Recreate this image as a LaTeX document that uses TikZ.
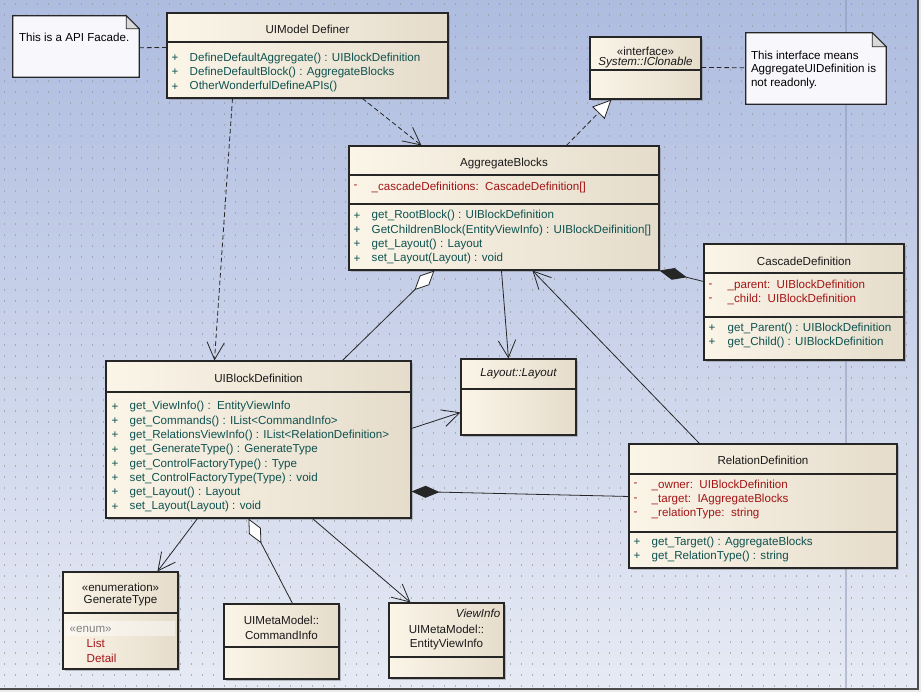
\documentclass[tikz,border=0pt]{standalone}
\usepackage{fontspec}
\setmainfont{Liberation Sans}
\usetikzlibrary{calc,fit,shadows,arrows.meta}
\definecolor{fond_haut}{HTML}{AEBCE0}
\definecolor{fond_bas}{HTML}{E6EAF4}
\definecolor{creme_g}{HTML}{FBF5E8}
\definecolor{creme_d}{HTML}{E5DCCB}
\definecolor{rouge_attr}{HTML}{A31414}
\definecolor{vert_meth}{HTML}{0E5250}
\definecolor{note_fond}{HTML}{F8F7FC}

\begin{document}
\begin{tikzpicture}[x=0.75pt,y=-0.75pt,
    font=\fontsize{8.7}{10}\selectfont,
    classe/.style={draw=black!85, line width=0.8pt, left color=creme_g, right color=creme_d,
      inner sep=0pt, drop shadow={shadow xshift=1.8pt, shadow yshift=-1.8pt, fill=black!50, opacity=0.45}},
    sep/.style={draw=black!85, line width=0.8pt},
    titre/.style={inner sep=0pt, text=black!90},
    attr/.style={anchor=west, inner sep=0pt, text=rouge_attr},
    meth/.style={anchor=west, inner sep=0pt, text=vert_meth},
    notebox/.style={inner sep=0pt},
    lien/.style={black!85, line width=0.6pt},
    pointille/.style={lien, dash pattern=on 3.5pt off 2.2pt},
    fleche/.style={-{Straight Barb[length=13pt,width=13pt]}},
    triangle/.style={-{Triangle[length=14pt,width=13pt,fill=white]}},
    losange_vide/.style={-{Diamond[length=21pt,width=10pt,fill=white]}},
    losange_plein/.style={-{Diamond[length=21pt,width=9pt]}}]

    % Fond bleu dégradé et cadre
    \useasboundingbox (0,0) rectangle (921,692);
    \fill[white!92!black] (0,0) rectangle (921,692);
    \shade[top color=fond_haut, bottom color=fond_bas] (0,0) rectangle (918,689);

    % Grille de points
    \foreach \yy in {4,15,...,688}
      \draw[black!40, opacity=0.7, line width=1.2pt, dash pattern=on 0.9pt off 7.35pt] (4,\yy) -- (916,\yy);

    % Ligne de page verticale et bords
    \draw[fond_haut!80!black, opacity=0.5, line width=1pt] (846,0) -- (846,689);
    \draw[black!70, line width=2pt] (918,0) -- (918,689) -- (0,689);

    % Notes
    \node[notebox, fit={(13,16) (139,77)}] (note1) {};
    \draw[black!85, line width=0.8pt, fill=note_fond] (note1.north west) -- ($(note1.north east)+(-13,0)$)
      -- ($(note1.north east)+(0,13)$) -- (note1.south east) -- (note1.south west) -- cycle;
    \draw[black!85, line width=0.6pt, fill=black!15] ($(note1.north east)+(-13,0)$) -- ($(note1.north east)+(-13,13)$) -- ($(note1.north east)+(0,13)$) -- cycle;
    \node[anchor=west, inner sep=0pt] (note1_t) at ($(note1.north west)+(6,22)$) {This is a API Facade.};

    \node[notebox, fit={(746,33) (886,104)}] (note2) {};
    \draw[black!85, line width=0.8pt, fill=note_fond] (note2.north west) -- ($(note2.north east)+(-14,0)$)
      -- ($(note2.north east)+(0,14)$) -- (note2.south east) -- (note2.south west) -- cycle;
    \draw[black!85, line width=0.6pt, fill=black!15] ($(note2.north east)+(-14,0)$) -- ($(note2.north east)+(-14,14)$) -- ($(note2.north east)+(0,14)$) -- cycle;
    \foreach \txt [count=\i] in {This interface means, AggregateUIDefinition is, not readonly.}
      \node[anchor=west, inner sep=0pt] (note2_t\i) at ($(note2.north west)+(5,9+14*\i)$) {\txt};

    % Classe UIModel Definer
    \node[classe, fit={(167,13) (448,98)}] (udef) {};
    \draw[sep] (udef.west |- 0,42) -- (udef.east |- 0,42);
    \node[titre] (udef_t) at (udef.north |- 0,29) {UIModel Definer};
    \foreach \txt [count=\i] in {{DefineDefaultAggregate() : UIBlockDefinition},
        {DefineDefaultBlock() : AggregateBlocks}, {OtherWonderfulDefineAPIs()}} {
      \node[meth] (udef_p\i) at ($(udef.west |- 0,44)+(5,14.3*\i)$) {+};
      \node[meth] (udef_m\i) at ($(udef.west |- 0,44)+(23,14.3*\i)$) {\txt};
    }

    % Interface IClonable
    \node[classe, fit={(590,37) (701,99)}] (iclone) {};
    \draw[sep] (iclone.west |- 0,70) -- (iclone.east |- 0,70);
    \node[titre] (iclone_s) at (iclone.north |- 0,51) {«interface»};
    \node[titre] (iclone_t) at (iclone.north |- 0,63) {\itshape System::IClonable};

    % Classe AggregateBlocks
    \node[classe, fit={(349,146) (659,270)}] (agg) {};
    \draw[sep] (agg.west |- 0,175) -- (agg.east |- 0,175);
    \draw[sep] (agg.west |- 0,204) -- (agg.east |- 0,204);
    \node[titre] (agg_t) at (agg.north |- 0,163) {AggregateBlocks};
    \node[attr] (agg_d1) at ($(agg.west |- 0,187)+(5,0)$) {-};
    \node[attr] (agg_a1) at ($(agg.west |- 0,187)+(23,0)$) {\_cascadeDefinitions:\ \ CascadeDefinition[]};
    \foreach \txt [count=\i] in {{get\_RootBlock() : UIBlockDefinition},
        {GetChildrenBlock(EntityViewInfo) : UIBlockDeifinition[]},
        {get\_Layout() : Layout}, {set\_Layout(Layout) : void}} {
      \node[meth] (agg_p\i) at ($(agg.west |- 0,201.5)+(5,14.3*\i)$) {+};
      \node[meth] (agg_m\i) at ($(agg.west |- 0,201.5)+(23,14.3*\i)$) {\txt};
    }

    % Classe CascadeDefinition
    \node[classe, fit={(704,244) (904,360)}] (casc) {};
    \draw[sep] (casc.west |- 0,273) -- (casc.east |- 0,273);
    \draw[sep] (casc.west |- 0,317) -- (casc.east |- 0,317);
    \node[titre] (casc_t) at (casc.north |- 0,261) {CascadeDefinition};
    \foreach \txt [count=\i] in {{\_parent:\ \ UIBlockDefinition}, {\_child:\ \ UIBlockDefinition}} {
      \node[attr] (casc_d\i) at ($(casc.west |- 0,271)+(5,14.3*\i)$) {-};
      \node[attr] (casc_a\i) at ($(casc.west |- 0,271)+(24,14.3*\i)$) {\txt};
    }
    \foreach \txt [count=\i] in {{get\_Parent() : UIBlockDefinition}, {get\_Child() : UIBlockDefinition}} {
      \node[meth] (casc_p\i) at ($(casc.west |- 0,314)+(5,14.3*\i)$) {+};
      \node[meth] (casc_m\i) at ($(casc.west |- 0,314)+(24,14.3*\i)$) {\txt};
    }

    % Classe UIBlockDefinition
    \node[classe, fit={(106,361) (411,518)}] (ubd) {};
    \draw[sep] (ubd.west |- 0,392) -- (ubd.east |- 0,392);
    \node[titre] (ubd_t) at (ubd.north |- 0,378) {UIBlockDefinition};
    \foreach \txt [count=\i] in {{get\_ViewInfo() :\ \ EntityViewInfo},
        {get\_Commands() : IList<CommandInfo>},
        {get\_RelationsViewInfo() : IList<RelationDefinition>},
        {get\_GenerateType() : GenerateType},
        {get\_ControlFactoryType() : Type},
        {set\_ControlFactoryType(Type) : void},
        {get\_Layout() : Layout}, {set\_Layout(Layout) : void}} {
      \node[meth] (ubd_p\i) at ($(ubd.west |- 0,392.5)+(6,14.3*\i)$) {+};
      \node[meth] (ubd_m\i) at ($(ubd.west |- 0,392.5)+(24,14.3*\i)$) {\txt};
    }

    % Classe Layout::Layout
    \node[classe, fit={(461,359) (576,435)}] (lay) {};
    \draw[sep] (lay.west |- 0,389) -- (lay.east |- 0,389);
    \node[titre] (lay_t) at (lay.north |- 0,374) {\itshape Layout::Layout};

    % Classe RelationDefinition
    \node[classe, fit={(629,444) (897,568)}] (rel) {};
    \draw[sep] (rel.west |- 0,474) -- (rel.east |- 0,474);
    \draw[sep] (rel.west |- 0,532) -- (rel.east |- 0,532);
    \node[titre] (rel_t) at (rel.north |- 0,460) {RelationDefinition};
    \foreach \txt [count=\i] in {{\_owner:\ \ UIBlockDefinition}, {\_target:\ \ IAggregateBlocks},
        {\_relationType:\ \ string}} {
      \node[attr] (rel_d\i) at ($(rel.west |- 0,471)+(5,14.2*\i)$) {-};
      \node[attr] (rel_a\i) at ($(rel.west |- 0,471)+(23,14.2*\i)$) {\txt};
    }
    \foreach \txt [count=\i] in {{get\_Target() : AggregateBlocks}, {get\_RelationType() : string}} {
      \node[meth] (rel_p\i) at ($(rel.west |- 0,528)+(5,14.3*\i)$) {+};
      \node[meth] (rel_m\i) at ($(rel.west |- 0,528)+(23,14.3*\i)$) {\txt};
    }

    % Enumeration GenerateType
    \node[classe, fit={(63,572) (178,669)}] (gen) {};
    \draw[sep] (gen.west |- 0,613) -- (gen.east |- 0,613);
    \fill[white, opacity=0.45] ($(gen.west |- 0,621)+(4,0)$) rectangle ($(gen.east |- 0,636)+(-4,0)$);
    \node[titre] (gen_s) at (gen.north |- 0,587) {«enumeration»};
    \node[titre] (gen_t) at (gen.north |- 0,601) {GenerateType};
    \node[anchor=west, inner sep=0pt, text=black!50] (gen_e) at ($(gen.west |- 0,629)+(7,0)$) {«enum»};
    \node[attr] (gen_v1) at ($(gen.west |- 0,643)+(24,0)$) {List};
    \node[attr] (gen_v2) at ($(gen.west |- 0,658)+(24,0)$) {Detail};

    % Classe CommandInfo
    \node[classe, fit={(224,604) (339,679)}] (cmd) {};
    \draw[sep] (cmd.west |- 0,647) -- (cmd.east |- 0,647);
    \node[titre] (cmd_t1) at (cmd.north |- 0,620) {UIMetaModel::};
    \node[titre] (cmd_t2) at (cmd.north |- 0,635) {CommandInfo};

    % Classe EntityViewInfo
    \node[classe, fit={(389,603) (504,678)}] (evi) {};
    \draw[sep] (evi.west |- 0,657) -- (evi.east |- 0,657);
    \node[titre, anchor=east] (evi_s) at ($(evi.east |- 0,613)+(-4,0)$) {\itshape ViewInfo};
    \node[titre] (evi_t1) at (evi.north |- 0,629) {UIMetaModel::};
    \node[titre] (evi_t2) at (evi.north |- 0,644) {EntityViewInfo};

    % Liens des notes
    \draw[pointille] ($(note1.north east)+(0,32)$) -- ($(udef.north west)+(0,35)$);
    \draw[pointille] ($(iclone.north east)+(0,31)$) -- ($(note2.north west)+(0,35)$);

    % Dépendances
    \draw[pointille, fleche] ($(udef.south west)+(196,0)$) -- ($(agg.north west)+(73,0)$);
    \draw[pointille, fleche] ($(udef.south west)+(66,0)$) -- ($(ubd.north west)+(109,0)$);
    \draw[pointille, triangle] ($(agg.north west)+(218,0)$) -- ($(iclone.south west)+(22,0)$);

    % Associations
    \draw[lien, fleche] ($(agg.south west)+(153,0)$) -- ($(lay.north west)+(48,0)$);
    \draw[lien, fleche] ($(rel.north west)+(71,0)$) -- ($(agg.south west)+(184,0)$);
    \draw[lien, fleche] ($(ubd.north east)+(0,68)$) -- ($(lay.north west)+(0,54)$);
    \draw[lien, fleche] ($(ubd.south west)+(92,0)$) -- ($(gen.north west)+(95,0)$);
    \draw[lien, fleche] ($(ubd.south west)+(207,0)$) -- ($(evi.north west)+(22,0)$);

    % Agrégations et compositions
    \draw[lien, losange_vide] ($(ubd.north west)+(237,0)$) -- ($(agg.south west)+(86,0)$);
    \draw[lien, losange_vide] ($(cmd.north west)+(69,0)$) -- ($(ubd.south west)+(143,0)$);
    \draw[lien, losange_plein] ($(casc.north west)+(0,38)$) -- (agg.south east);
    \draw[lien, losange_plein] ($(rel.north west)+(0,53)$) -- ($(ubd.north east)+(0,131)$);
\end{tikzpicture}
\end{document}
